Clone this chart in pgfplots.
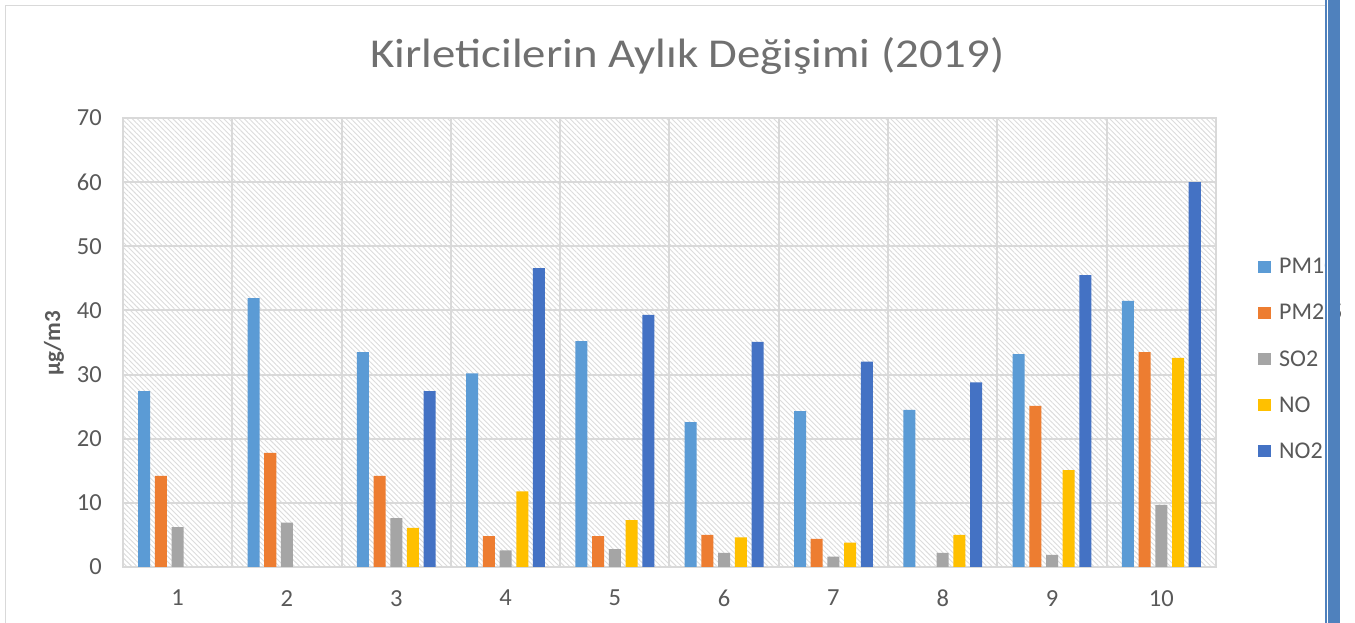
\documentclass[border=0pt]{standalone}
\usepackage{pgfplots}
\pgfplotsset{compat=1.18}
\usepackage{fontspec}
\setmainfont{Carlito}
\usetikzlibrary{patterns.meta}
\definecolor{cPMa}{HTML}{5B9BD5}
\definecolor{cPMb}{HTML}{ED7D31}
\definecolor{cSO}{HTML}{A5A5A5}
\definecolor{cNO}{HTML}{FFC000}
\definecolor{cNOb}{HTML}{4472C4}
\definecolor{txt}{HTML}{595959}
\definecolor{ttl}{HTML}{707070}
\definecolor{gridc}{HTML}{D9D9D9}
\definecolor{hatch}{HTML}{DCDCDC}
\definecolor{sidebar}{HTML}{4F81BD}
\begin{document}
\begin{tikzpicture}
\useasboundingbox (0,0) rectangle (1355pt,623pt);
\fill[white] (0,0) rectangle (1355pt,623pt);
\draw[gridc, line width=1.5pt] (5.5pt,-5pt) -- (5.5pt,617.5pt) -- (1330pt,617.5pt);
\begin{axis}[
  at={(123pt,56pt)}, anchor=south west, scale only axis,
  width=1093pt, height=449pt,
  xmin=0.5, xmax=10.5, ymin=0, ymax=70,
  xtick={1,...,10}, ytick={0,10,...,70},
  minor xtick={0.5,1.5,...,10.5},
  ymajorgrids, xminorgrids,
  grid style={gridc, line width=2pt},
  minor grid style={gridc, line width=2pt},
  axis line style={gridc, line width=2pt},
  major tick length=0pt, minor tick length=0pt,
  tick style={draw=none},
  axis background/.style={pattern={Lines[angle=-45,distance=3.6pt,line width=0.9pt]}, pattern color=hatch},
  ybar=4.7pt, bar width=12pt,
  /pgf/number format/assume math mode=true,
  tick label style={font=\fontsize{24.5pt}{29pt}\selectfont, text=txt},
  yticklabel style={inner sep=0pt, anchor=east, xshift=-21pt},
  xticklabel style={inner sep=0pt, anchor=north, yshift=-23pt},
  ylabel={\textbf{µg/m3}},
  ylabel style={at={(axis description cs:-0.0631,0.498)}, anchor=center, font=\fontsize{23pt}{27pt}\selectfont, text=txt},
  title={Kirleticilerin Aylık Değişimi (2019)},
  title style={at={(axis description cs:0.5165,1.0995)}, anchor=base, xscale=1.14, font=\fontsize{41pt}{49pt}\selectfont, text=ttl},
  legend image code/.code={\fill[#1,draw=none] (0pt,-6.25pt) rectangle (12.5pt,6.25pt); \path (21pt,0pt);},
  legend style={draw=none, fill=none, at={(axis description cs:1.0384,0.4633)}, anchor=west,
    font=\fontsize{24pt}{29pt}\selectfont, text=txt, row sep=29pt, inner sep=0pt, nodes={inner sep=0pt}},
  legend cell align=left,
]
\addplot[fill=cPMa, draw=none] coordinates {(1,27.4)(2,41.9)(3,33.5)(4,30.2)(5,35.2)(6,22.6)(7,24.3)(8,24.5)(9,33.2)(10,41.5)};
\addplot[fill=cPMb, draw=none] coordinates {(1,14.2)(2,17.8)(3,14.2)(4,4.8)(5,4.8)(6,5.0)(7,4.4)(9,25.1)(10,33.5)};
\addplot[fill=cSO, draw=none] coordinates {(1,6.2)(2,6.9)(3,7.6)(4,2.6)(5,2.8)(6,2.2)(7,1.6)(8,2.2)(9,1.9)(10,9.7)};
\addplot[fill=cNO, draw=none] coordinates {(3,6.1)(4,11.8)(5,7.3)(6,4.6)(7,3.8)(8,5.0)(9,15.1)(10,32.6)};
\addplot[fill=cNOb, draw=none] coordinates {(3,27.4)(4,46.6)(5,39.3)(6,35.1)(7,32.0)(8,28.8)(9,45.5)(10,60.0)};
\legend{PM10,PM2.5,SO2,NO,NO2}
\end{axis}
\fill[white] (1325pt,0) rectangle (1340pt,623pt);
\fill[sidebar] (1325pt,0) rectangle (1327pt,623pt);
\fill[sidebar] (1328pt,0) rectangle (1340pt,623pt);
\end{tikzpicture}
\end{document}
